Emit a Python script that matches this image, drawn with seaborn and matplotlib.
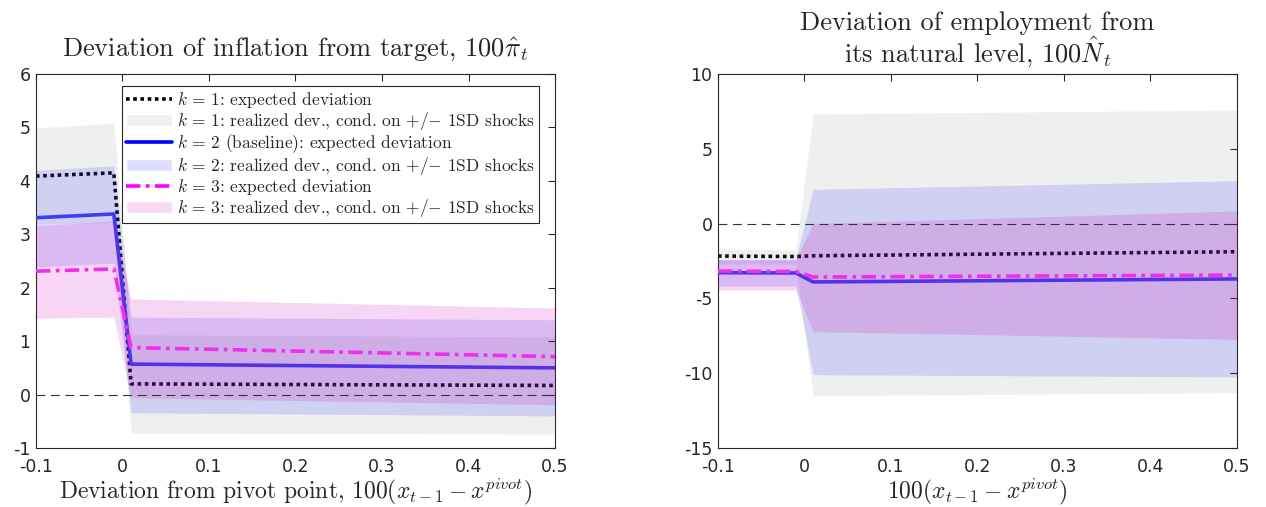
import matplotlib
matplotlib.use("Agg")
import matplotlib.pyplot as plt
import pandas as pd
import seaborn as sns
from matplotlib.lines import Line2D
from matplotlib.patches import Patch

# grid of lagged deviation from pivot (kink between -0.01 and 0.01)
x = [-0.1, -0.01, 0.01, 0.5]

# inflation, 100*pi_hat
pi_k1 = [4.09, 4.15, 0.20, 0.17]
pi_k1_lo = [3.19, 3.22, -0.72, -0.74]
pi_k1_hi = [4.99, 5.08, 1.12, 1.08]
pi_k2 = [3.31, 3.38, 0.57, 0.50]
pi_k2_lo = [2.39, 2.46, -0.34, -0.40]
pi_k2_hi = [4.20, 4.28, 1.45, 1.40]
pi_k3 = [2.31, 2.35, 0.88, 0.71]
pi_k3_lo = [1.43, 1.45, -0.06, -0.19]
pi_k3_hi = [3.16, 3.25, 1.79, 1.62]

# employment, 100*N_hat
n_k1 = [-2.17, -2.20, -2.15, -1.88]
n_k1_lo = [-2.70, -2.72, -11.50, -11.30]
n_k1_hi = [-1.70, -1.75, 7.33, 7.60]
n_k2 = [-3.28, -3.30, -3.90, -3.70]
n_k2_lo = [-4.17, -4.17, -10.10, -10.25]
n_k2_hi = [-2.40, -2.40, 2.29, 2.87]
n_k3 = [-3.17, -3.20, -3.57, -3.44]
n_k3_lo = [-4.44, -4.44, -7.22, -7.74]
n_k3_hi = [-2.42, -2.42, 0.00, 0.85]

labels = [
    r"$k\,=\,1$: expected deviation",
    r"$k\,=\,1$: realized dev., cond. on $+$/$-$ 1SD shocks",
    r"$k\,=\,2$ (baseline): expected deviation",
    r"$k\,=\,2$: realized dev., cond. on $+$/$-$ 1SD shocks",
    r"$k\,=\,3$: expected deviation",
    r"$k\,=\,3$: realized dev., cond. on $+$/$-$ 1SD shocks",
]

sns.set_style("white")
plt.rcParams["mathtext.fontset"] = "cm"
plt.rcParams["font.family"] = ["DejaVu Sans"]
serif = "cmr10"
dark = (0.15, 0.15, 0.15)

leg_colors = ["black", "blue", "magenta"]
plot_colors = ["black", (0.28, 0.28, 0.95), (0.96, 0.22, 0.96)]
dashes = [(0, (1, 1)), "-", (0, (4, 1.5, 1, 1.5))]
band_styles = [
    dict(color=(0.5, 0.5, 0.5), alpha=0.12, linewidth=0),
    dict(color=(0.0, 0.0, 1.0), alpha=0.13, linewidth=0),
    dict(color=(0.8, 0.0, 0.75), alpha=0.16, linewidth=0),
]


def draw(ax, lines, los, his):
    for i in range(3):
        df = pd.DataFrame({"x": x, "y": lines[i]})
        sns.lineplot(data=df, x="x", y="y", ax=ax, zorder=2 + 2 * i,
                     color=plot_colors[i], linestyle=dashes[i], linewidth=2.6)
        ax.fill_between(x, los[i], his[i], zorder=3 + 2 * i, **band_styles[i])
    ax.axhline(0, color=(0.2, 0.2, 0.2), linestyle=(0, (8, 5)), linewidth=0.8, zorder=10)
    ax.set_xlim(-0.1, 0.5)
    ax.set_xticks([-0.1, 0, 0.1, 0.2, 0.3, 0.4, 0.5])
    ax.set_xticklabels(["-0.1", "0", "0.1", "0.2", "0.3", "0.4", "0.5"])
    ax.tick_params(direction="in", length=5, width=0.8, top=True, right=True,
                   labelsize=12.5, colors=dark)
    ax.tick_params(axis="x", pad=7)
    ax.tick_params(axis="y", pad=4)
    for s in ax.spines.values():
        s.set_color(dark)
        s.set_linewidth(0.8)
    ax.set_xlabel("")
    ax.set_ylabel("")


fig = plt.figure(figsize=(12.66, 5.07), dpi=100)
ax1 = fig.add_axes([0.0284, 0.1164, 0.41, 0.7376])
ax2 = fig.add_axes([0.5671, 0.1164, 0.41, 0.7376])

draw(ax1, [pi_k1, pi_k2, pi_k3], [pi_k1_lo, pi_k2_lo, pi_k3_lo], [pi_k1_hi, pi_k2_hi, pi_k3_hi])
ax1.set_ylim(-1, 6)
ax1.set_yticks(range(-1, 7))
ax1.set_yticklabels([str(v) for v in range(-1, 7)])
ax1.set_title(r"Deviation of inflation from target, $100\hat{\pi}_t$", fontfamily=serif, fontsize=19, pad=13)
ax1.set_xlabel(r"Deviation from pivot point, $100(x_{t-1}-x^{pivot})$", fontfamily=serif, fontsize=17, labelpad=1)

draw(ax2, [n_k1, n_k2, n_k3], [n_k1_lo, n_k2_lo, n_k3_lo], [n_k1_hi, n_k2_hi, n_k3_hi])
ax2.set_ylim(-15, 10)
ax2.set_yticks(range(-15, 11, 5))
ax2.set_yticklabels([str(v) for v in range(-15, 11, 5)])
ax2.set_title("Deviation of employment from\n" + r"its natural level, $100\hat{N}_t$",
              fontfamily=serif, fontsize=19, pad=9, linespacing=0.95)
ax2.set_xlabel(r"$100(x_{t-1}-x^{pivot})$", fontsize=17, labelpad=1)

leg_handles = [
    Line2D([], [], color=leg_colors[0], linestyle=dashes[0], linewidth=2.6),
    Patch(facecolor=(0.94, 0.94, 0.94)),
    Line2D([], [], color=leg_colors[1], linestyle=dashes[1], linewidth=2.6),
    Patch(facecolor=(0.87, 0.87, 0.99)),
    Line2D([], [], color=leg_colors[2], linestyle=dashes[2], linewidth=2.6),
    Patch(facecolor=(0.97, 0.85, 0.96)),
]
leg = ax1.legend(leg_handles, labels, loc="upper left", bbox_to_anchor=(0.166, 0.968),
                 prop={"family": serif, "size": 12.5}, frameon=True, fancybox=False,
                 edgecolor=dark, framealpha=1, borderpad=0.25,
                 labelspacing=0.0, handlelength=2.6, handletextpad=0.3, borderaxespad=0)
leg.get_frame().set_linewidth(0.8)
leg.set_zorder(20)

fig.savefig("out.png", dpi=100)
